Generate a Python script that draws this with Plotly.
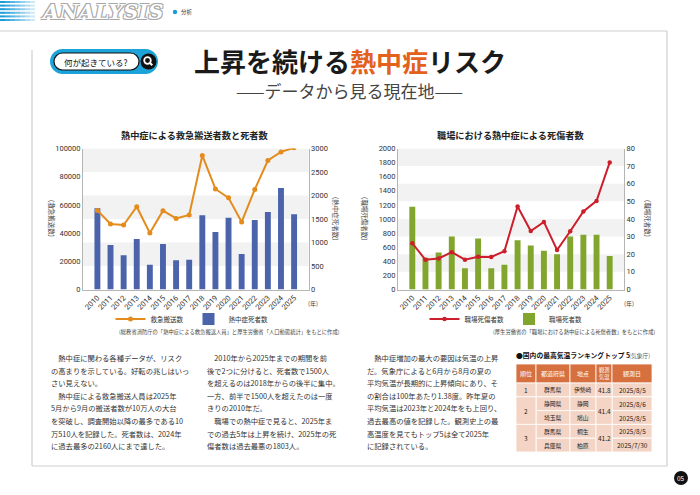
import plotly.graph_objects as go

# ---- data ----
years = ["2010", "2011", "2012", "2013", "2014", "2015", "2016", "2017",
         "2018", "2019", "2020", "2021", "2022", "2023", "2024", "2025"]
transport = [56100, 46500, 45700, 58700, 40100, 55900, 50400, 52900,
             95100, 71300, 65000, 47900, 71000, 91500, 97600, 100500]
heat_deaths = [1731, 948, 727, 1077, 529, 968, 621, 635,
               1581, 1224, 1528, 755, 1477, 1651, 2160, 1600]
work_casualties = [656, 422, 440, 530, 423, 464, 462, 544,
                   1178, 829, 959, 561, 827, 1106, 1257, 1803]
work_deaths = [47, 18, 21, 30, 12, 29, 12, 14, 28, 25, 22, 20, 30, 31, 31, 19]

table_head = ["順位", "都道府県", "地点", "観測<br>気温", "観測日"]
table_rank = ["1", "2", "3"]
table_rank_span = [1, 2, 2]
table_pref = ["群馬県", "静岡県", "埼玉県", "群馬県", "兵庫県"]
table_site = ["伊勢崎", "静岡", "鳩山", "桐生", "柏原"]
table_temp = ["41.8", "41.4", "41.2"]
table_date = ["2025/8/5", "2025/8/6", "2025/8/5", "2025/8/5", "2025/7/30"]

col1 = ["　熱中症に関わる各種データが、リスク",
        "の高まりを示している。好転の兆しはいっ",
        "さい見えない。",
        "　熱中症による救急搬送人員は2025年",
        "5月から9月の搬送者数が10万人の大台",
        "を突破し、調査開始以降の最多である10",
        "万510人を記録した。死者数は、2024年",
        "に過去最多の2160人にまで達した。"]
col2 = ["　2010年から2025年までの期間を前",
        "後で2つに分けると、死者数で1500人",
        "を超えるのは2018年からの後半に集中。",
        "一方、前半で1500人を超えたのは一度",
        "きりの2010年だ。",
        "　職場での熱中症で見ると、2025年ま",
        "での過去5年は上昇を続け、2025年の死",
        "傷者数は過去最悪の1803人。"]
col3 = ["　熱中症増加の最大の要因は気温の上昇",
        "だ。気象庁によると6月から8月の夏の",
        "平均気温が長期的に上昇傾向にあり、そ",
        "の割合は100年あたり1.38度。昨年夏の",
        "平均気温は2023年と2024年をも上回り、",
        "過去最高の値を記録した。観測史上の最",
        "高温度を見てもトップ5は全て2025年",
        "に記録されている。"]

W, H = 700, 495
FONT = "Noto Sans CJK JP"
ORANGE = "#e38c1d"
BLUE = "#4a63ab"
GREEN = "#82a52d"
RED = "#cc1f2b"


def px(x):
    return x / W


def py(y):
    return 1 - y / H


annotations = []
shapes = []


def text(x, y, s, size, color="#333", xanchor="center", **kw):
    annotations.append(dict(x=px(x), y=py(y), xref="paper", yref="paper", text=s,
                            showarrow=False, xanchor=xanchor, yanchor="middle",
                            font=dict(size=size, color=color, family=FONT), **kw))


def rect(x0, y0, x1, y1, fill, line=None, lw=0, layer="above"):
    shapes.append(dict(type="rect", xref="paper", yref="paper", x0=px(x0), x1=px(x1),
                       y0=py(y1), y1=py(y0), fillcolor=fill, layer=layer,
                       line=dict(color=line or fill, width=lw)))


def line(x0, y0, x1, y1, color, lw=1):
    shapes.append(dict(type="line", xref="paper", yref="paper", x0=px(x0), x1=px(x1),
                       y0=py(y0), y1=py(y1), line=dict(color=color, width=lw)))


def rounded(x0, y0, x1, y1, r, fill, line_color=None, lw=0):
    k = 0.5523 * r
    pts = [
        f"M {px(x0 + r)},{py(y0)}",
        f"L {px(x1 - r)},{py(y0)}",
        f"C {px(x1 - r + k)},{py(y0)} {px(x1)},{py(y0 + r - k)} {px(x1)},{py(y0 + r)}",
        f"L {px(x1)},{py(y1 - r)}",
        f"C {px(x1)},{py(y1 - r + k)} {px(x1 - r + k)},{py(y1)} {px(x1 - r)},{py(y1)}",
        f"L {px(x0 + r)},{py(y1)}",
        f"C {px(x0 + r - k)},{py(y1)} {px(x0)},{py(y1 - r + k)} {px(x0)},{py(y1 - r)}",
        f"L {px(x0)},{py(y0 + r)}",
        f"C {px(x0)},{py(y0 + r - k)} {px(x0 + r - k)},{py(y0)} {px(x0 + r)},{py(y0)} Z",
    ]
    shapes.append(dict(type="path", xref="paper", yref="paper", path=" ".join(pts),
                       fillcolor=fill, line=dict(color=line_color or fill, width=lw)))


def circle(cx, cy, r, fill, line_color=None, lw=0):
    shapes.append(dict(type="circle", xref="paper", yref="paper",
                       x0=px(cx - r), x1=px(cx + r), y0=py(cy + r), y1=py(cy - r),
                       fillcolor=fill, line=dict(color=line_color or fill, width=lw)))


# ---- page frame / header ----
for i in range(6):
    y0 = 1 + i * 3.6
    for j in range(7):
        rect(j * 5, y0, j * 5 + 5, y0 + 2, "#1b9bd7", layer="below")
        shapes[-1]["opacity"] = 1 - j * 0.13
line(0, 31, 667, 31, "#cfcfcf", 1.2)
line(32, 50, 32, 466, "#cfcfcf", 1.2)
line(32, 466, 667, 466, "#cfcfcf", 1.2)
line(667, 31, 667, 466, "#cfcfcf", 1.2)

annotations.append(dict(x=px(39), y=py(11.5), xref="paper", yref="paper",
                        text="<b><i>ANALYSIS</i></b>", showarrow=False, xanchor="left",
                        yanchor="middle",
                        font=dict(size=21, color="white", family="DejaVu Serif",
                                  shadow="-1px -1px 0 #a8a8a8, 1px -1px 0 #a8a8a8, -1px 1px 0 #a8a8a8, 1px 1px 0 #a8a8a8")))
circle(175, 12, 2.2, "#1b9bd7")
text(179, 12, "分析", 5.5, "#333", xanchor="left")

# pill
rounded(50, 49, 158, 74, 12.5, "#1ca3da")
rounded(54, 53, 139, 70, 8.5, "white", "#111", 1.2)
text(96.5, 61.5, "何が起きている?", 8.5, "#111")
circle(148.5, 61.5, 8, "#111")
circle(147.5, 60.5, 3.3, "rgba(0,0,0,0)", "white", 1.8)
line(149.8, 62.8, 152.3, 65.3, "white", 2)

# title
text(350, 60, "<b>上昇を続ける<span style='color:#e2611d'>熱中症</span>リスク</b>", 26, "#1a1a1a")
text(349, 91, "——データから見る現在地——", 17, "#444")

# ---- charts ----
fig = go.Figure()
fig.add_trace(go.Bar(x=years, y=heat_deaths, name="熱中症死者数", marker_color=BLUE,
                     width=0.45, xaxis="x", yaxis="y", legend="legend", legendrank=2))
fig.add_trace(go.Scatter(x=years, y=transport, name="救急搬送数", mode="lines+markers",
                         line=dict(color=ORANGE, width=2), marker=dict(size=5, color=ORANGE),
                         xaxis="x", yaxis="y2", legend="legend", legendrank=1))
fig.add_trace(go.Bar(x=years, y=work_deaths, name="職場死者数", marker_color=GREEN,
                     width=0.45, xaxis="x2", yaxis="y3", legend="legend2", legendrank=2))
fig.add_trace(go.Scatter(x=years, y=work_casualties, name="職場死傷者数", mode="lines+markers",
                         line=dict(color=RED, width=2), marker=dict(size=4.5, color=RED),
                         xaxis="x2", yaxis="y4", legend="legend2", legendrank=1))


def axis(**kw):
    base = dict(showgrid=False, zeroline=False, showline=True, linecolor="#b5b5b5",
                linewidth=1, ticks="", color="#333333", tickformat="d",
                tickfont=dict(size=7.5, color="#333333", family="Roboto"))
    base.update(kw)
    return base


left_dom = [px(83), px(308.5)]
right_dom = [px(398), px(624)]
y_dom = [py(289.5), py(148.5)]

# bands behind the bars (every other tick interval of the bar axis)
for yref, top, step in (("y", 3000, 500), ("y3", 80, 10)):
    xref = "x domain" if yref == "y" else "x2 domain"
    n = int(top / step)
    for i in range(n):
        if i % 2 == 1:
            shapes.append(dict(type="rect", xref=xref, yref=yref, x0=0, x1=1,
                               y0=i * step, y1=(i + 1) * step, fillcolor="#f2f2f2",
                               line=dict(width=0), layer="below"))

text(194, 135, "<b>熱中症による救急搬送者数と死者数</b>", 9.2, "#222")
text(510, 135, "<b>職場における熱中症による死傷者数</b>", 9.2, "#222")
text(52, 218, "(救急搬送数)", 6.5, "#444", textangle=90)
text(336, 218, "(熱中症死者数)", 6.5, "#444", textangle=90)
text(365, 218, "(職場死傷者数)", 6.5, "#444", textangle=90)
text(648, 218, "(職場死者数)", 6.5, "#444", textangle=90)
text(313, 303, "(年)", 6, "#444")
text(629, 303, "(年)", 6, "#444")
text(342, 332, "(総務省消防庁の「熱中症による救急搬送人員」と厚生労働省「人口動態統計」をもとに作成)",
     5.3, "#444", xanchor="right")
text(657, 332, "(厚生労働省の「職場における熱中症による死傷者数」をもとに作成)",
     5.3, "#444", xanchor="right")

# ---- body text ----
for x0, lines in ((49, col1), (205, col2), (365, col3)):
    for i, s in enumerate(lines):
        text(x0, 358 + i * 12.6, s, 7.3, "#333", xanchor="left")

# ---- table ----
cols = [516, 536, 570, 596, 612, 652]
head_top, head_bot = 364, 383
row_h = (452 - head_bot) / len(table_pref)
text(514, 355, "<b>●国内の最高気温ランキングトップ 5</b>", 6.8, "#111", xanchor="left")
text(627, 355, "(気象庁)", 5.8, "#555", xanchor="left")
for c, name in enumerate(table_head):
    rect(cols[c], head_top, cols[c + 1], head_bot, "#d6703f", "white", 0.8)
    text((cols[c] + cols[c + 1]) / 2, (head_top + head_bot) / 2, name,
         6 if c != 3 else 5.2, "white")
for r in range(len(table_pref)):
    y0 = head_bot + r * row_h
    y1 = y0 + row_h
    for c, vals in ((1, table_pref), (2, table_site), (4, table_date)):
        rect(cols[c], y0, cols[c + 1], y1, "#f4d5c5", "white", 0.8)
        text((cols[c] + cols[c + 1]) / 2, (y0 + y1) / 2, vals[r], 6.5 if c == 4 else 5.8, "#222")
start = 0
for g, span in enumerate(table_rank_span):
    y0 = head_bot + start * row_h
    y1 = y0 + span * row_h
    for c, vals in ((0, table_rank), (3, table_temp)):
        rect(cols[c], y0, cols[c + 1], y1, "#f4d5c5", "white", 0.8)
        text((cols[c] + cols[c + 1]) / 2, (y0 + y1) / 2, vals[g], 6.5, "#222")
    start += span

# page number
circle(681, 478, 7, "#111")
text(681, 478, "05", 6.5, "white")

legend_common = dict(orientation="h", xanchor="center", yanchor="middle",
                     font=dict(size=6.5, color="#333", family=FONT),
                     bgcolor="rgba(0,0,0,0)", itemwidth=30, tracegroupgap=0)

fig.update_layout(
    template="none",
    width=W, height=H,
    margin=dict(l=0, r=0, t=0, b=0),
    paper_bgcolor="white",
    plot_bgcolor="rgba(0,0,0,0)",
    font=dict(family=FONT, color="#333"),
    xaxis=axis(domain=left_dom, anchor="y", type="category", tickangle=-45),
    yaxis=axis(domain=y_dom, anchor="x", side="right", range=[0, 3000], dtick=500),
    yaxis2=axis(overlaying="y", anchor="x", side="left", range=[0, 100000], dtick=20000),
    xaxis2=axis(domain=right_dom, anchor="y3", type="category", tickangle=-45),
    yaxis3=axis(domain=y_dom, anchor="x2", side="right", range=[0, 80], dtick=10),
    yaxis4=axis(overlaying="y3", anchor="x2", side="left", range=[0, 2000], dtick=200),
    legend=dict(x=px(192), y=py(319), **legend_common),
    legend2=dict(x=px(506), y=py(319), **legend_common),
    shapes=shapes,
    annotations=annotations,
)

# the page body has a default 8px margin; drop it so the figure fills the window
fig.write_html("out.html", config={"displayModeBar": False},
               post_script="document.body.style.margin='0';")
